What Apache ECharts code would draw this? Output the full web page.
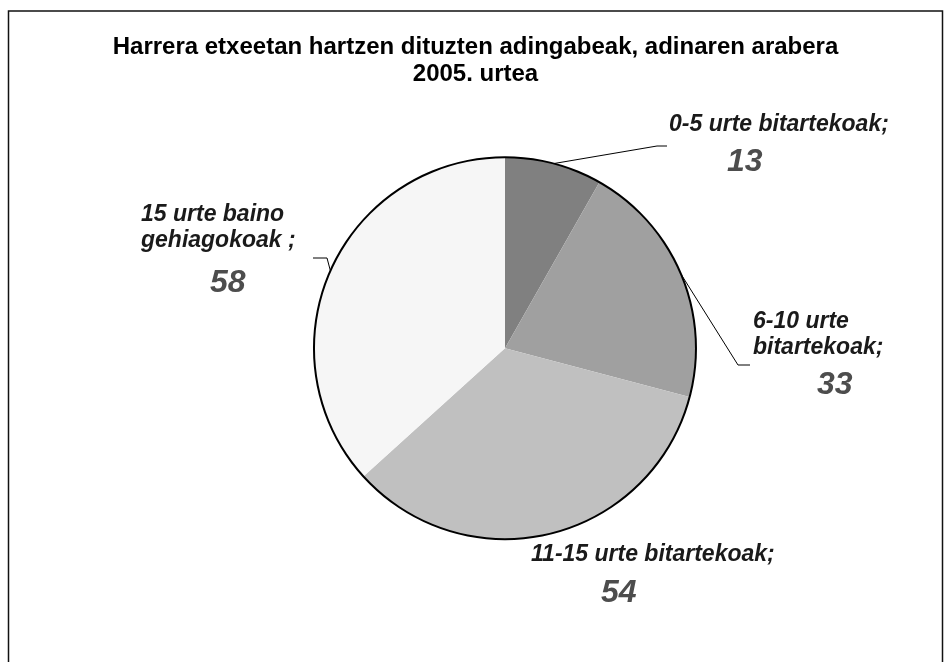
<!DOCTYPE html>
<html>
<head>
<meta charset="utf-8">
<script src="https://cdn.jsdelivr.net/npm/echarts@6/dist/echarts.min.js"></script>
<style>
  html, body { margin: 0; padding: 0; background: #fff; }
  #chart { width: 951px; height: 662px; }
</style>
</head>
<body>
<div id="chart"></div>
<script>
// data
var categories = ['0-5 urte bitartekoak', '6-10 urte bitartekoak', '11-15 urte bitartekoak', '15 urte baino gehiagokoak '];
var values = [13, 33, 54, 58];
var titleLines = ['Harrera etxeetan hartzen dituzten adingabeak, adinaren arabera', '2005. urtea'];

// layout of the labels (top-left of each label block, bends of the guide lines)
var sliceColors = ['#808080', '#a0a0a0', '#c0c0c0', '#f6f6f6'];
var labelPos = [
  { x: 669, y: 112, br: 0, pl: 58, vh: 48, line: [[657, 146], [667, 146]] },
  { x: 753, y: 309, br: 2, pl: 64, vh: 48, line: [[738, 365], [750, 365]] },
  { x: 531, y: 542, br: 0, pl: 70, vh: 50, line: null },
  { x: 141, y: 202, br: 3, pl: 69, vh: 58, line: [[327, 258], [313, 258]] }
];

var font = '"Liberation Sans", Arial, sans-serif';
var total = values.reduce(function (a, b) { return a + b; }, 0);

var rich = {
  n: { fontSize: 23, lineHeight: 26, fontWeight: 'bold', fontStyle: 'italic', color: '#1a1a1a', fontFamily: font }
};
labelPos.forEach(function (p, i) {
  rich['v' + i] = {
    fontSize: 32, lineHeight: p.vh, fontWeight: 'bold', fontStyle: 'italic',
    color: '#4d4d4d', fontFamily: font, padding: [0, 0, 0, p.pl]
  };
});

function labelText(params) {
  var i = params.dataIndex;
  var name = params.name;
  var sep = / $/.test(name) ? ' ;' : ';';
  var words = name.trim().split(' ');
  var br = labelPos[i].br;
  var lines = br ? [words.slice(0, br).join(' '), words.slice(br).join(' ')] : [words.join(' ')];
  lines[lines.length - 1] += sep;
  return lines.map(function (l) { return '{n|' + l + '}'; }).join('\n') + '\n{v' + i + '|' + params.value + '}';
}

var chart = echarts.init(document.getElementById('chart'));
chart.setOption({
  animation: false,
  backgroundColor: '#fff',
  title: {
    text: titleLines.join('\n'),
    left: 'center',
    top: 29,
    textStyle: { fontSize: 24, fontWeight: 'bold', color: '#000', lineHeight: 27, fontFamily: font }
  },
  graphic: [{
    type: 'rect',
    shape: { x: 8.5, y: 11, width: 934, height: 700 },
    style: { fill: 'none', stroke: '#111', lineWidth: 1.5 },
    silent: true
  }],
  series: [
    {
      type: 'pie',
      center: ['53.1%', '52.6%'],
      radius: 191,
      startAngle: 90,
      clockwise: true,
      avoidLabelOverlap: false,
      itemStyle: { borderWidth: 0 },
      emphasis: { disabled: true },
      label: {
        show: true,
        position: 'outside',
        formatter: labelText,
        rich: rich
      },
      labelLine: {
        show: true,
        lineStyle: { color: '#000', width: 1 }
      },
      labelLayout: function (params) {
        var p = labelPos[params.dataIndex];
        var out = { x: p.x, y: p.y, align: 'left', verticalAlign: 'top' };
        if (p.line && params.labelLinePoints) {
          out.labelLinePoints = [params.labelLinePoints[0], p.line[0], p.line[1]];
        }
        return out;
      },
      data: categories.map(function (c, i) {
        return {
          name: c,
          value: values[i],
          itemStyle: { color: sliceColors[i] },
          labelLine: { show: !!labelPos[i].line }
        };
      })
    },
    {
      // outer outline of the pie
      type: 'pie',
      center: ['53.1%', '52.6%'],
      radius: [190, 192],
      silent: true,
      label: { show: false },
      labelLine: { show: false },
      itemStyle: { color: '#000', borderWidth: 0 },
      data: [{ name: 'total', value: total }]
    }
  ]
});
</script>
</body>
</html>
